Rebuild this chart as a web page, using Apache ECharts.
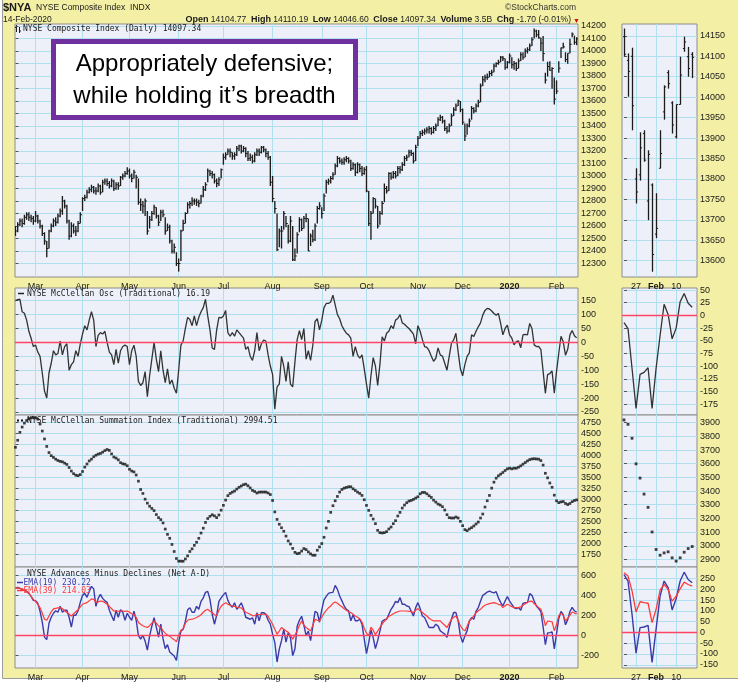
<!DOCTYPE html>
<html><head><meta charset="utf-8">
<script src="https://cdn.jsdelivr.net/npm/echarts@6/dist/echarts.min.js"></script>
<style>html,body{margin:0;padding:0;background:#fff}#c{width:738px;height:683px}</style>
</head><body><div id="c"></div><script>
// ---------- DATA ----------
const monthIdx = [9,30,51,73,93,115,137,157,180,200,221,242];
const monthNames = ['Mar','Apr','May','Jun','Jul','Aug','Sep','Oct','Nov','Dec','2020','Feb'];
const miniIdx = [3,8,13];
const miniNames = ['27','Feb','10'];
const MINI_START = 234;

const mainTicks = [12300,12400,12500,12600,12700,12800,12900,13000,13100,13200,13300,13400,13500,13600,13700,13800,13900,14000,14100,14200];
const oscTicks = [150,100,50,0,-50,-100,-150,-200,-250];
const sumTicks = [4750,4500,4250,4000,3750,3500,3250,3000,2750,2500,2250,2000,1750];
const adTicks = [600,400,200,0,-200];
const miniMainTicks = [14150,14100,14050,14000,13950,13900,13850,13800,13750,13700,13650,13600];
const miniOscTicks = [50,25,0,-25,-50,-75,-100,-125,-150,-175];
const miniSumTicks = [3900,3800,3700,3600,3500,3400,3300,3200,3100,3000,2900];
const miniAdTicks = [250,200,150,100,50,0,-50,-100,-150];

const priceClose = [
12560,12610,12640,12620,12670,12690,12670,12660,12640,12680,
12640,12600,12540,12480,12420,12560,12600,12640,12630,12680,
12720,12800,12760,12640,12520,12600,12560,12560,12620,12690,
12820,12830,12870,12890,12910,12880,12880,12920,12870,12950,
12960,12940,12920,12960,12900,12930,12920,12990,13000,13020,
13040,13000,12980,13030,12990,12790,12770,12760,12800,12560,
12650,12700,12750,12680,12630,12710,12690,12560,12590,12480,
12400,12430,12300,12300,12560,12620,12700,12770,12780,12800,
12800,12790,12780,12840,12890,12930,13040,13020,13010,12960,
12940,12970,13050,13150,13170,13200,13190,13160,13170,13220,
13240,13200,13220,13180,13140,13150,13120,13170,13200,13190,
13230,13210,13180,13150,12950,12820,12740,12410,12560,12560,
12700,12620,12480,12640,12330,12360,12530,12650,12580,12660,
12660,12400,12520,12490,12600,12740,12760,12700,12840,12950,
12960,12980,13010,13080,13140,13120,13110,13130,13140,13120,
13060,13090,13030,13090,13060,13020,13050,12880,12620,12700,
12820,12760,12600,12700,12780,12900,12880,13020,12990,13020,
13000,13060,13050,13090,13140,13150,13190,13180,13120,13230,
13300,13340,13350,13360,13370,13380,13350,13380,13400,13450,
13470,13440,13380,13360,13400,13480,13530,13560,13600,13530,
13430,13320,13400,13440,13540,13520,13560,13590,13720,13770,
13790,13790,13820,13830,13880,13900,13910,13950,13940,13870,
13910,13960,13890,13900,13860,13920,13970,13950,14000,14010,
14040,14090,14160,14130,14105,14063,13979,13768,13876,13846,
13860,13615,13679,13862,14025,14033,13932,13982,14054,14135,
14070,14097.34];
const priceHigh = [
12600,12630,12660,12660,12690,12710,12710,12690,12680,12720,
12690,12650,12610,12550,12480,12570,12620,12660,12670,12700,
12740,12840,12810,12770,12650,12630,12620,12600,12640,12710,
12830,12850,12890,12910,12930,12920,12910,12940,12930,12970,
12980,12980,12960,12980,12970,12950,12950,13000,13020,13040,
13070,13060,13020,13050,13010,12980,12820,12800,12820,12720,
12680,12720,12770,12750,12690,12730,12730,12670,12620,12610,
12490,12460,12390,12340,12570,12650,12710,12790,12800,12830,
12820,12820,12810,12850,12920,12950,13060,13050,13040,13020,
12980,12990,13060,13180,13190,13220,13220,13190,13190,13240,
13250,13250,13240,13230,13200,13180,13170,13190,13220,13220,
13240,13240,13220,13200,13160,13000,12800,12700,12580,12600,
12720,12680,12610,12680,12600,12420,12550,12670,12660,12680,
12700,12660,12540,12570,12620,12760,12790,12750,12860,12970,
12980,13000,13030,13100,13160,13150,13140,13150,13160,13150,
13130,13110,13100,13110,13100,13080,13070,13080,12880,12720,
12830,12820,12760,12720,12800,12940,12920,13030,13030,13040,
13040,13080,13080,13110,13160,13170,13210,13210,13190,13250,
13320,13360,13370,13380,13390,13400,13390,13400,13420,13470,
13490,13480,13450,13400,13420,13500,13550,13580,13610,13600,
13540,13420,13420,13460,13560,13550,13580,13610,13740,13800,
13810,13820,13840,13850,13900,13910,13930,13960,13960,13940,
13920,13980,13950,13920,13910,13940,13990,13990,14020,14030,
14060,14110,14181,14170,14168,14107,14121,13826,13914,13919,
13870,13789,13765,13919,14029,14066,13990,13982,14099,14148,
14123,14110.19];
const priceLow = [
12520,12550,12600,12590,12610,12650,12640,12630,12610,12630,
12620,12580,12520,12450,12350,12420,12550,12590,12600,12620,
12670,12690,12740,12620,12490,12510,12540,12520,12550,12620,
12720,12800,12820,12860,12870,12860,12850,12870,12850,12870,
12930,12920,12900,12910,12880,12890,12890,12920,12970,12990,
13010,12980,12950,12980,12900,12770,12720,12700,12680,12530,
12580,12640,12690,12660,12600,12640,12670,12530,12560,12460,
12380,12380,12280,12235,12320,12560,12620,12700,12740,12760,
12770,12760,12750,12780,12830,12880,12950,13000,12980,12940,
12910,12920,12980,13090,13130,13170,13150,13130,13130,13160,
13200,13180,13190,13150,13120,13120,13100,13110,13160,13160,
13180,13190,13150,13130,12920,12790,12700,12400,12430,12420,
12570,12590,12460,12470,12320,12320,12380,12550,12560,12580,
12630,12400,12440,12470,12480,12620,12730,12660,12720,12860,
12930,12940,12970,13010,13070,13100,13090,13090,13110,13100,
13040,13050,13000,13020,13030,13000,13010,12870,12600,12490,
12700,12740,12580,12610,12690,12790,12860,12880,12970,12980,
12980,13000,13020,13040,13080,13120,13150,13160,13100,13120,
13240,13300,13320,13330,13340,13340,13330,13340,13360,13400,
13440,13420,13360,13340,13350,13400,13480,13520,13560,13510,
13410,13280,13330,13390,13450,13500,13510,13550,13590,13720,
13750,13770,13790,13800,13830,13870,13890,13910,13920,13850,
13860,13900,13860,13850,13840,13860,13920,13930,13950,13980,
14000,14040,14100,14110,14100,14001,13919,13740,13796,13842,
13699,13573,13655,13826,13945,14021,13911,13899,13982,14111,
14050,14046.60];
const miniOpen = [14148,14090,14100,13800,13810,13911,13746,13785,13665,13826,13964,14060,13986,13903,13982,14119,14099,14104.77];

const oscValues = [
150,154,155,110,105,80,40,15,-15,-10,
-35,-50,-110,-175,-200,-110,-75,-30,-45,-40,
5,-45,-15,-5,-100,-80,-70,-30,-50,-5,
30,60,45,80,110,80,-15,25,35,30,
40,0,-35,-45,-80,-25,-75,-30,-15,-10,
-15,-80,-30,-10,-50,-140,-155,-145,-105,-195,
-120,-60,0,-60,-105,-30,-100,-145,-95,-150,
-135,-165,-183,-100,-10,5,50,90,82,60,
95,60,90,110,125,155,95,45,-20,-25,
45,90,88,95,115,35,22,35,22,45,
35,25,15,-25,-15,-50,-65,-30,35,-30,
-5,8,5,-45,-85,-115,-240,-160,-150,-50,
-85,-140,-70,-150,-160,-70,10,42,10,50,
-60,-30,-65,-10,75,85,45,80,125,140,
140,145,170,135,100,85,60,45,33,27,
15,-50,-15,-45,-57,-45,-95,-150,-200,-120,
-55,-85,-155,-80,20,5,33,40,60,50,
80,86,100,70,65,57,50,40,30,-5,
60,40,10,-15,-18,-30,-50,-68,-57,-20,
-45,-50,-75,-100,-50,-3,9,33,-35,-95,
-120,-80,-50,-38,27,21,40,56,70,98,
115,122,120,113,104,98,104,68,27,50,
62,27,15,-9,3,5,-19,27,29,27,
68,50,-9,-15,-14,-26,-104,-183,-116,-112,
-103,-183,-104,-39,22,2,-46,-25,27,43,
24,16.19];
const sumValues = [
4190,4350,4530,4650,4740,4800,4840,4860,4870,4860,
4830,4720,4560,4380,4210,4070,4000,3960,3920,3890,
3870,3860,3830,3800,3730,3650,3590,3555,3545,3570,
3640,3740,3810,3880,3920,3975,4010,4035,4050,4080,
4115,4140,4120,4040,3970,3945,3905,3840,3815,3805,
3770,3690,3650,3630,3560,3420,3230,3140,3010,2920,
2850,2800,2750,2660,2590,2545,2470,2330,2210,2120,
1980,1820,1660,1600,1600,1598,1650,1720,1820,1880,
1960,2030,2120,2240,2350,2480,2570,2620,2655,2630,
2590,2650,2760,2870,2990,3090,3140,3170,3195,3240,
3280,3310,3340,3352,3315,3265,3210,3185,3150,3170,
3172,3172,3172,3150,3115,2980,2720,2550,2440,2360,
2280,2170,2060,1990,1890,1800,1770,1780,1830,1886,
1863,1810,1765,1735,1735,1848,1924,2000,2143,2354,
2506,2710,2861,2974,3072,3171,3231,3261,3277,3292,
3292,3246,3209,3171,3141,3095,2997,2868,2755,2642,
2558,2453,2301,2248,2241,2248,2271,2332,2377,2453,
2521,2627,2710,2808,2876,2929,2967,2982,3005,3035,
3065,3133,3163,3163,3133,3088,3050,2989,2944,2899,
2876,2838,2763,2657,2589,2581,2581,2604,2581,2506,
2407,2317,2294,2332,2362,2400,2445,2490,2581,2672,
2831,2974,3095,3261,3397,3488,3541,3579,3617,3662,
3700,3715,3700,3715,3715,3738,3768,3806,3843,3880,
3910,3925,3930,3925,3920,3888,3786,3599,3495,3378,
3281,3101,2973,2931,2948,2956,2912,2888,2912,2953,
2980,2994.51];
const ema19 = [
470,480,470,460,450,440,420,390,350,345,
320,240,130,-20,-45,120,180,220,245,230,
290,230,250,250,180,80,200,200,245,330,
400,420,380,440,490,465,290,370,410,370,
345,330,250,195,145,250,180,255,230,150,
220,180,150,240,150,-5,-40,0,-60,-150,
-10,90,175,80,-20,110,-35,-135,-95,-170,
-190,-210,-255,-75,40,60,140,255,275,230,
230,290,260,340,375,430,440,360,210,110,
200,340,375,405,430,350,305,280,325,260,
290,325,265,180,170,160,175,110,225,145,
225,227,210,150,110,10,-75,-270,-140,-55,
60,-70,25,-25,-205,-140,90,150,190,100,
-5,40,-55,90,240,225,130,255,355,390,
420,427,430,500,460,393,345,295,260,245,
145,205,145,145,160,110,-40,-185,-75,55,
-25,-135,-55,40,140,155,160,210,260,293,
340,327,377,310,310,293,287,240,193,277,
327,267,193,177,127,77,77,77,110,93,
43,27,10,-23,77,160,227,227,143,-7,
-73,-7,43,140,177,160,240,277,340,400,
415,433,443,433,425,437,375,330,293,343,
387,343,310,277,267,277,250,320,327,327,
417,400,343,293,268,238,84,-96,22,25,
33,-139,15,168,238,207,104,156,238,279,
245,230.22];
const ema39 = [
470,475,470,465,455,443,420,390,360,340,
310,277,220,160,150,193,235,265,270,275,
277,265,245,227,210,193,215,235,255,285,
310,320,327,345,365,360,330,335,343,340,
325,310,290,265,243,245,240,243,243,240,
243,230,215,210,180,127,110,95,85,77,
95,120,143,120,93,80,43,20,0,-10,
-30,-45,-67,0,50,65,120,150,158,160,
168,177,190,205,230,250,260,240,227,205,
195,250,290,310,327,310,300,293,290,280,
277,275,250,230,220,210,195,195,210,205,
210,210,210,190,150,110,60,10,40,77,
60,43,30,0,-40,0,43,100,143,100,
77,60,43,100,160,150,143,180,220,250,
275,293,320,333,320,300,285,265,250,235,
227,210,193,180,165,130,70,20,-5,80,
50,5,40,77,110,140,165,190,200,215,
227,235,243,243,243,243,240,235,227,250,
267,245,227,210,193,170,155,143,143,143,
143,120,100,77,120,160,180,193,150,93,
60,43,90,143,165,193,225,245,260,285,
300,310,317,322,327,320,310,305,277,295,
310,300,285,277,277,277,285,300,315,333,
340,343,315,300,276,261,192,95,142,138,
135,45,107,196,222,199,145,168,202,233,
222,214.03];

// ---------- STYLE ----------
const FONT = '"Liberation Sans", Arial, sans-serif';
const MONO = '"DejaVu Sans Mono", monospace';
const C = {bg:'#f3f0a5', plot:'#eef0f9', grid:'#b0dfee', border:'#8c8c8c', text:'#1a1a1a', zero:'#ff4466'};
const ML = 15, MW = 563, NL = 622, NW = 75;
const P = [{top:24,h:253},{top:288,h:127},{top:415,h:152},{top:567,h:102}];

const grids = [];
P.forEach(p => grids.push({left:ML, top:p.top, width:MW, height:p.h, show:true, backgroundColor:C.plot, borderColor:C.border, borderWidth:1}));
P.forEach(p => grids.push({left:NL, top:p.top, width:NW, height:p.h, show:true, backgroundColor:C.plot, borderColor:C.border, borderWidth:1}));

function xa(gi, min, max, idx, names, showLab, bold) {
  return {type:'value', gridIndex:gi, min:min, max:max,
    axisLine:{show:false}, axisTick:{show:false, customValues:idx},
    axisLabel:{show:showLab, customValues:idx, margin:4, color:C.text, fontSize:9, fontFamily:FONT, lineHeight:11,
      formatter: v => { const n = names[idx.indexOf(Math.round(v))] || ''; return bold.indexOf(n) >= 0 ? '{b|' + n + '}' : n; },
      rich:{b:{fontWeight:'bold', fontSize:9, lineHeight:11, fontFamily:FONT, color:C.text}}},
    splitLine:{show:true, lineStyle:{color:C.grid, width:1}}};
}
function ya(gi, min, max, ticks) {
  return {type:'value', gridIndex:gi, position:'right', min:min, max:max,
    axisLine:{show:false},
    axisTick:{show:true, length:3, lineStyle:{color:'#555'}, customValues:ticks},
    axisLabel:{customValues:ticks, margin:3, color:C.text, fontSize:9, fontFamily:FONT, formatter: v => String(v)},
    splitLine:{show:true, lineStyle:{color:C.grid, width:1}}};
}
const xAxes = [
  xa(0,-0.2,251.6,monthIdx,monthNames,true,['2020']),
  xa(1,-0.2,251.6,monthIdx,monthNames,false,['2020']),
  xa(2,-0.2,251.6,monthIdx,monthNames,false,['2020']),
  xa(3,-0.2,251.6,monthIdx,monthNames,true,['2020']),
  xa(4,-0.5,18.2,miniIdx,miniNames,true,['Feb']),
  xa(5,-0.5,18.2,miniIdx,miniNames,false,['Feb']),
  xa(6,-0.5,18.2,miniIdx,miniNames,false,['Feb']),
  xa(7,-0.5,18.2,miniIdx,miniNames,true,['Feb'])
];
const yAxes = [
  ya(0,12192,14216,mainTicks), ya(1,-261,195.5,oscTicks), ya(2,1467,4925,sumTicks), ya(3,-330,685,adTicks),
  ya(4,13560,14179,miniMainTicks), ya(5,-196,54,miniOscTicks), ya(6,2845,3956,miniSumTicks), ya(7,-165,303,miniAdTicks)
];

const BAR = '#1c1c1c';
function hlcItem(params, api) {
  const i = api.value(0);
  const h = api.coord([i, api.value(1)]), l = api.coord([i, api.value(2)]), c = api.coord([i, api.value(3)]);
  const x = h[0];
  return {type:'group', children:[
    {type:'line', shape:{x1:x, y1:h[1], x2:x, y2:l[1]}, style:{stroke:BAR, lineWidth:1.35}},
    {type:'line', shape:{x1:x, y1:c[1], x2:x+1.8, y2:c[1]}, style:{stroke:BAR, lineWidth:1}}
  ]};
}
function ohlcItem(params, api) {
  const k = api.value(0);
  const o = api.coord([k, api.value(1)]), h = api.coord([k, api.value(2)]), l = api.coord([k, api.value(3)]), c = api.coord([k, api.value(4)]);
  const x = Math.round(h[0]) + 0.5;
  return {type:'group', children:[
    {type:'line', shape:{x1:x, y1:h[1], x2:x, y2:l[1]}, style:{stroke:BAR, lineWidth:1.3}},
    {type:'line', shape:{x1:x-1.6, y1:o[1], x2:x, y2:o[1]}, style:{stroke:BAR, lineWidth:1}},
    {type:'line', shape:{x1:x, y1:c[1], x2:x+1.6, y2:c[1]}, style:{stroke:BAR, lineWidth:1}}
  ]};
}
const zeroLine = {silent:true, symbol:'none', animation:false, label:{show:false}, lineStyle:{color:C.zero, width:1.3, type:'solid'}, data:[{yAxis:0}]};
const pair = arr => arr.map((v,i) => [i, v]);
const miniPair = arr => arr.slice(MINI_START).map((v,k) => [k, v]);

const series = [
  {type:'custom', xAxisIndex:0, yAxisIndex:0, renderItem:hlcItem, clip:true, encode:{x:0, y:[1,2,3]},
   data: priceClose.map((c,i) => [i, priceHigh[i], priceLow[i], c])},
  {type:'line', xAxisIndex:1, yAxisIndex:1, data:pair(oscValues), showSymbol:false, lineStyle:{color:'#333', width:1.3}, markLine:zeroLine},
  {type:'scatter', xAxisIndex:2, yAxisIndex:2, data:pair(sumValues), symbol:'rect', symbolSize:2.7, itemStyle:{color:'#111'}},
  {type:'line', xAxisIndex:3, yAxisIndex:3, data:pair(ema19), showSymbol:false, lineStyle:{color:'#3a3aa8', width:1.4}, markLine:zeroLine},
  {type:'line', xAxisIndex:3, yAxisIndex:3, data:pair(ema39), showSymbol:false, lineStyle:{color:'#ff3a3a', width:1.2}},
  {type:'custom', xAxisIndex:4, yAxisIndex:4, renderItem:ohlcItem, clip:true, encode:{x:0, y:[1,2,3,4]},
   data: miniOpen.map((o,k) => [k, o, priceHigh[MINI_START+k], priceLow[MINI_START+k], priceClose[MINI_START+k]])},
  {type:'line', xAxisIndex:5, yAxisIndex:5, data:miniPair(oscValues), showSymbol:false, lineStyle:{color:'#333', width:1.3}, markLine:zeroLine},
  {type:'scatter', xAxisIndex:6, yAxisIndex:6, data:miniPair(sumValues), symbol:'rect', symbolSize:2.8, itemStyle:{color:'#111'}},
  {type:'line', xAxisIndex:7, yAxisIndex:7, data:miniPair(ema19), showSymbol:false, lineStyle:{color:'#3a3aa8', width:1.4}, markLine:zeroLine},
  {type:'line', xAxisIndex:7, yAxisIndex:7, data:miniPair(ema39), showSymbol:false, lineStyle:{color:'#ff3a3a', width:1.3}}
];

function txt(x, y, text, font, fill, align, extra) {
  return Object.assign({type:'text', x:x, y:y, z:50, silent:true,
    style:{text:text, font:font, fill:fill || C.text, align:align || 'left', verticalAlign:'middle'}}, extra || {});
}
const F9 = '8.5px ' + FONT, LAB = '8px ' + MONO;
const graphic = [
  {type:'rect', z:-100, silent:true, shape:{x:2.5, y:-5, width:740, height:683.5}, style:{fill:C.bg, stroke:'#9a9a9a', lineWidth:1}},
  txt(3, 8, '$NYA', 'bold 11px ' + FONT),
  txt(36, 8, 'NYSE Composite Index  INDX', F9),
  txt(576, 8, '\u00a9StockCharts.com', F9, '#333', 'right'),
  txt(3, 20, '14-Feb-2020', F9),
  {type:'text', x:571, y:20, z:50, silent:true, style:{
    text:'{b|Open} 14104.77  {b|High} 14110.19  {b|Low} 14046.60  {b|Close} 14097.34  {b|Volume} 3.5B  {b|Chg} -1.70 (-0.01%)',
    font:F9, fill:C.text, align:'right', verticalAlign:'middle',
    rich:{b:{fontWeight:'bold', fontSize:9, fontFamily:FONT, fill:C.text}}}},
  txt(573, 21, '\u25bc', '7px ' + FONT, '#d01010'),
  // main label icon
  {type:'group', z:50, silent:true, children:[
    {type:'line', shape:{x1:16.5, y1:25, x2:16.5, y2:32}, style:{stroke:'#222', lineWidth:1}},
    {type:'line', shape:{x1:15, y1:27.5, x2:16.5, y2:27.5}, style:{stroke:'#222', lineWidth:1}},
    {type:'line', shape:{x1:19.5, y1:27, x2:19.5, y2:33}, style:{stroke:'#222', lineWidth:1}},
    {type:'line', shape:{x1:19.5, y1:31, x2:21, y2:31}, style:{stroke:'#222', lineWidth:1}}
  ]},
  txt(23, 28.5, 'NYSE Composite Index (Daily) 14097.34', LAB),
  {type:'line', z:50, silent:true, shape:{x1:18, y1:293.5, x2:24, y2:293.5}, style:{stroke:'#222', lineWidth:1.5}},
  txt(27, 294, 'NYSE McClellan Osc (Traditional) 16.19', LAB),
  {type:'rect', z:50, silent:true, shape:{x:17, y:419.5, width:2, height:2}, style:{fill:'#111'}},
  {type:'rect', z:50, silent:true, shape:{x:21, y:419.5, width:2, height:2}, style:{fill:'#111'}},
  txt(27, 421, 'NYSE McClellan Summation Index (Traditional) 2994.51', LAB),
  txt(27, 574, 'NYSE Advances Minus Declines (Net A-D)', LAB),
  {type:'line', z:50, silent:true, shape:{x1:17, y1:582.5, x2:23, y2:582.5}, style:{stroke:'#3a3aa8', lineWidth:1.5}},
  txt(23.5, 583, 'EMA(19) 230.22', LAB, '#3a3aa8'),
  {type:'line', z:50, silent:true, shape:{x1:17, y1:590.5, x2:23, y2:590.5}, style:{stroke:'#ff3a3a', lineWidth:1.5}},
  txt(23.5, 591, 'EMA(39) 214.03', LAB, '#ff3a3a'),
  // annotation box
  {type:'rect', z:90, silent:true, shape:{x:53.5, y:41.5, width:302, height:76}, style:{fill:'#fff', stroke:'#7030a0', lineWidth:5}},
  txt(204.5, 64, 'Appropriately defensive;', '24px ' + FONT, '#000', 'center', {z:91}),
  txt(204.5, 96, 'while holding it\u2019s breadth', '24px ' + FONT, '#000', 'center', {z:91})
];

const chart = echarts.init(document.getElementById('c'), null, {renderer:'canvas'});
chart.setOption({
  animation:false, backgroundColor:'#fff',
  grid:grids, xAxis:xAxes, yAxis:yAxes, series:series, graphic:graphic
});
</script></body></html>
